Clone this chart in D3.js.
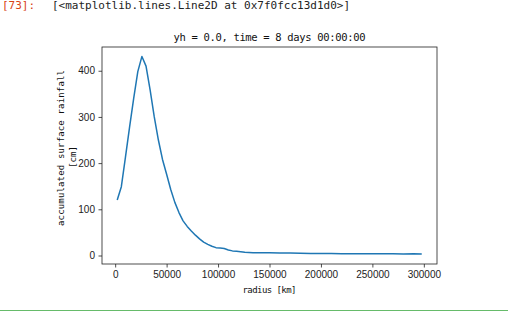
<!DOCTYPE html>
<html>
<head>
<meta charset="utf-8">
<script src="https://cdn.jsdelivr.net/npm/d3@7"></script>
<style>
  body { margin: 0; background: #fff; }
  svg { display: block; }
</style>
</head>
<body>
<script>
// radius [km] and accumulated rainfall [cm]
const radius = [2000, 6000, 10000, 14000, 18000, 22000, 26000, 30000, 34000, 38000,
  42000, 46000, 50000, 54000, 58000, 62000, 66000, 70000, 74000, 78000,
  82000, 86000, 90000, 94000, 98000, 102000, 106000, 110000, 114000, 118000,
  122000, 126000, 130000, 134000, 138000, 142000, 150000, 160000, 170000, 180000,
  190000, 200000, 210000, 220000, 230000, 240000, 250000, 260000, 270000, 280000,
  290000, 298000]
const rainfall = [120, 149, 213, 278, 340, 398, 431, 410, 358, 300,
  250, 208, 176, 143, 115, 93, 75, 63, 53, 44,
  36, 29, 24, 20, 17, 16, 15, 12, 10, 9,
  8, 7, 6.5, 6, 6, 6, 6.2, 5.6, 5.2, 5,
  4.6, 4.3, 4.3, 4.0, 3.8, 3.9, 3.7, 3.6, 3.7, 3.5,
  3.6, 3]
const xTicks = [0, 50000, 100000, 150000, 200000, 250000, 300000]
const yTicks = [0, 100, 200, 300, 400]

const width = 508
const height = 315
const box = { left: 102, right: 437, top: 47, bottom: 264 }
const mono = 'DejaVu Sans Mono, Liberation Mono, monospace'
const sans = 'Liberation Sans, Arial, sans-serif'

const svg = d3.select('body').append('svg')
  .attr('width', width)
  .attr('height', height)

// jupyter output prompt
const prompt = svg.append('text')
  .attr('y', 9)
  .style('font-family', mono)
  .style('font-size', '11px')
prompt.append('tspan').attr('x', 2).attr('fill', '#d84315').text('[73]:')
prompt.append('tspan').attr('x', 52).attr('fill', '#222').text('[<matplotlib.lines.Line2D at 0x7f0fcc13d1d0>]')

// green cell border at bottom
svg.append('line')
  .attr('x1', 0).attr('x2', width)
  .attr('y1', 310.5).attr('y2', 310.5)
  .attr('stroke', '#66bb6a')
  .attr('stroke-width', 1)

const x = d3.scaleLinear().domain([-12800, 312800]).range([box.left, box.right])
const y = d3.scaleLinear().domain([-18.4, 451.4]).range([box.bottom, box.top])

const xAxis = svg.append('g')
  .attr('transform', `translate(0,${box.bottom})`)
  .call(d3.axisBottom(x).tickValues(xTicks).tickFormat(d3.format('d')).tickSize(3.5).tickPadding(3.5))
const yAxis = svg.append('g')
  .attr('transform', `translate(${box.left},0)`)
  .call(d3.axisLeft(y).tickValues(yTicks).tickFormat(d3.format('d')).tickSize(3.5).tickPadding(3.5))

;[xAxis, yAxis].forEach(g => {
  g.select('.domain').remove()
  g.selectAll('.tick line').attr('stroke', '#222').attr('stroke-width', 0.8)
  g.selectAll('.tick text')
    .attr('fill', '#222')
    .style('font-family', sans)
    .style('font-size', '10px')
})

svg.append('rect')
  .attr('x', box.left).attr('y', box.top)
  .attr('width', box.right - box.left)
  .attr('height', box.bottom - box.top)
  .attr('fill', 'none')
  .attr('stroke', '#222')
  .attr('stroke-width', 0.8)

const pts = radius.map((r, i) => [r, rainfall[i]])
svg.append('path')
  .datum(pts)
  .attr('fill', 'none')
  .attr('stroke', '#1f77b4')
  .attr('stroke-width', 1.5)
  .attr('stroke-linejoin', 'round')
  .attr('d', d3.line().x(d => x(d[0])).y(d => y(d[1])))

// title and labels
svg.append('text')
  .attr('x', (box.left + box.right) / 2)
  .attr('y', 41)
  .attr('text-anchor', 'middle')
  .attr('textLength', 192)
  .attr('fill', '#111')
  .style('font-family', mono)
  .style('font-size', '10.5px')
  .text('yh = 0.0, time = 8 days 00:00:00')

svg.append('text')
  .attr('x', (box.left + box.right) / 2)
  .attr('y', 293)
  .attr('text-anchor', 'middle')
  .attr('textLength', 54)
  .attr('fill', '#111')
  .style('font-family', mono)
  .style('font-size', '9px')
  .text('radius [km]')

const yl = svg.append('g')
  .attr('fill', '#111')
  .style('font-family', mono)
  .style('font-size', '9px')
yl.append('text')
  .attr('transform', `translate(64,148) rotate(-90)`)
  .attr('text-anchor', 'middle')
  .attr('textLength', 156)
  .text('accumulated surface rainfall')
yl.append('text')
  .attr('transform', `translate(76,157) rotate(-90)`)
  .attr('text-anchor', 'middle')
  .text('[cm]')
</script>
</body>
</html>
